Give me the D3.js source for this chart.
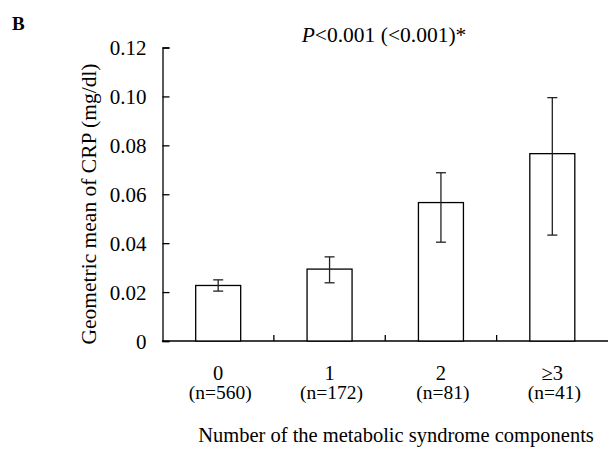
<!DOCTYPE html>
<html>
<head>
<meta charset="utf-8">
<script src="https://cdn.jsdelivr.net/npm/d3@7"></script>
<style>
  body { margin: 0; background: #fff; }
  svg text { font-family: "Liberation Serif", "Times New Roman", serif; fill: #000; }
</style>
</head>
<body>
<svg id="chart" width="608" height="453"></svg>
<script>
// data
var groups = ["0", "1", "2", "\u22653"];
var counts = ["(n=560)", "(n=172)", "(n=81)", "(n=41)"];
var geoMean = [0.0227, 0.0294, 0.0566, 0.0766];
var ciLow = [0.0204, 0.0238, 0.0404, 0.0433];
var ciHigh = [0.0250, 0.0344, 0.0688, 0.0995];
var yTicks = [0, 0.02, 0.04, 0.06, 0.08, 0.10, 0.12];

var svg = d3.select("#chart");

var m = { left: 162.5, right: 608, top: 47.5, bottom: 341 };

var x = d3.scaleBand()
	.domain(groups)
	.range([m.left, m.right])
	.paddingInner(0)
	.paddingOuter(0);

var y = d3.scaleLinear()
	.domain([0, 0.12])
	.range([m.bottom, m.top]);

var bw = 45;

// y axis: ticks point inward
var yAxis = svg.append("g")
	.attr("transform", "translate(" + m.left + ",0)")
	.call(d3.axisRight(y).tickValues(yTicks).tickSize(7)
		.tickFormat(function(d) { return d === 0 ? "0" : d3.format(".2f")(d); }));
yAxis.attr("font-family", null).attr("font-size", null);
yAxis.select(".domain").attr("stroke", "#000").attr("stroke-width", 1.3);
yAxis.selectAll(".tick line").attr("stroke", "#000").attr("stroke-width", 1.3);
yAxis.selectAll(".tick text")
	.attr("x", -16)
	.attr("text-anchor", "end")
	.attr("dy", "0.35em")
	.style("font-size", "21px");

// x axis: separators between categories pointing up
var xAxis = svg.append("g")
	.attr("transform", "translate(0," + m.bottom + ")");
xAxis.append("line")
	.attr("x1", m.left - 0.6).attr("x2", m.right)
	.attr("stroke", "#000").attr("stroke-width", 1.3);
xAxis.selectAll("line.sep")
	.data(groups.slice(1))
	.join("line")
	.attr("class", "sep")
	.attr("x1", function(d) { return x(d); })
	.attr("x2", function(d) { return x(d); })
	.attr("y1", 0).attr("y2", -6)
	.attr("stroke", "#000").attr("stroke-width", 1.3);

// bars
svg.selectAll("rect.bar")
	.data(groups)
	.join("rect")
	.attr("class", "bar")
	.attr("x", function(d) { return x(d) + x.bandwidth() / 2 - bw / 2; })
	.attr("width", bw)
	.attr("y", function(d, i) { return y(geoMean[i]); })
	.attr("height", function(d, i) { return m.bottom - y(geoMean[i]); })
	.attr("fill", "#fff")
	.attr("stroke", "#000")
	.attr("stroke-width", 1.3);

// error bars
var eb = svg.selectAll("g.err")
	.data(groups)
	.join("g")
	.attr("class", "err")
	.attr("transform", function(d) { return "translate(" + (x(d) + x.bandwidth() / 2) + ",0)"; });
eb.append("line")
	.attr("y1", function(d, i) { return y(ciLow[i]); })
	.attr("y2", function(d, i) { return y(ciHigh[i]); })
	.attr("stroke", "#222").attr("stroke-width", 1.3);
eb.append("line")
	.attr("x1", -5).attr("x2", 5)
	.attr("y1", function(d, i) { return y(ciLow[i]); })
	.attr("y2", function(d, i) { return y(ciLow[i]); })
	.attr("stroke", "#222").attr("stroke-width", 1.3);
eb.append("line")
	.attr("x1", -5).attr("x2", 5)
	.attr("y1", function(d, i) { return y(ciHigh[i]); })
	.attr("y2", function(d, i) { return y(ciHigh[i]); })
	.attr("stroke", "#222").attr("stroke-width", 1.3);

// category labels
svg.selectAll("text.cat")
	.data(groups)
	.join("text")
	.attr("class", "cat")
	.attr("x", function(d) { return x(d) + x.bandwidth() / 2; })
	.attr("y", 380)
	.attr("text-anchor", "middle")
	.style("font-size", "20.5px")
	.text(function(d) { return d; });

svg.selectAll("text.n")
	.data(counts)
	.join("text")
	.attr("class", "n")
	.attr("x", function(d, i) { return x(groups[i]) + x.bandwidth() / 2 + 2; })
	.attr("y", 399)
	.attr("text-anchor", "middle")
	.style("font-size", "19.5px")
	.text(function(d) { return d; });

// axis titles
svg.append("text")
	.attr("x", 396)
	.attr("y", 442)
	.attr("text-anchor", "middle")
	.style("font-size", "20.5px")
	.text("Number of the metabolic syndrome components");

svg.append("text")
	.attr("transform", "translate(96,204) rotate(-90)")
	.attr("text-anchor", "middle")
	.style("font-size", "21.5px")
	.text("Geometric mean of CRP (mg/dl)");

// p-value note
var pt = svg.append("text")
	.attr("x", 384)
	.attr("y", 42)
	.attr("text-anchor", "middle")
	.style("font-size", "21.5px");
pt.append("tspan").style("font-style", "italic").text("P");
pt.append("tspan").text("<0.001 (<0.001)*");

// panel letter
svg.append("text")
	.attr("x", 12)
	.attr("y", 30)
	.style("font-size", "19px")
	.style("font-weight", "bold")
	.text("B");
</script>
</body>
</html>
